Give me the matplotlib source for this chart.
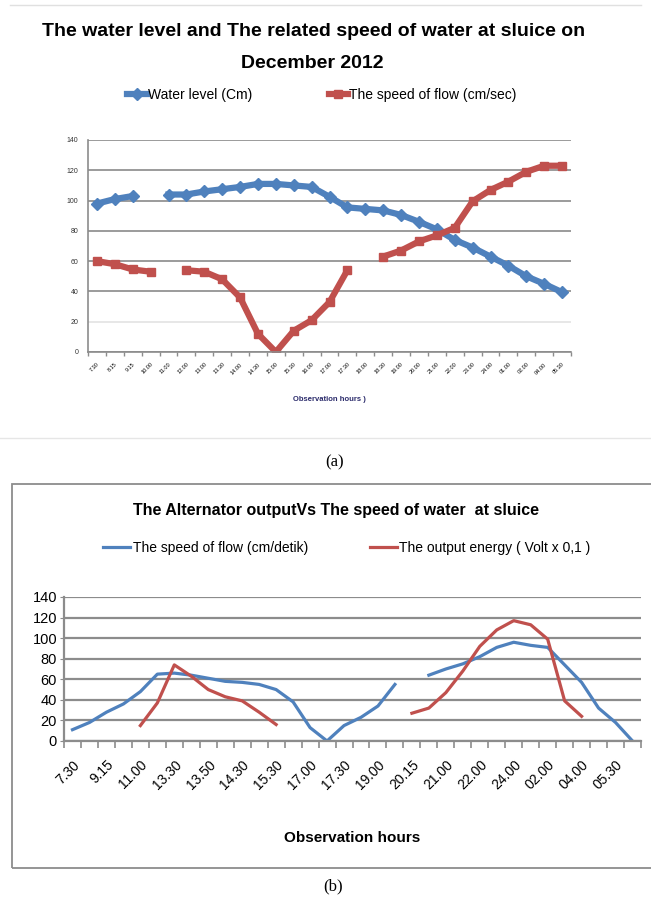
import numpy as np
import matplotlib.pyplot as plt
from matplotlib.patches import Rectangle
from matplotlib.lines import Line2D

plt.rcParams['font.family'] = ['Liberation Sans Narrow', 'Liberation Sans', 'DejaVu Sans']

nan = np.nan

# ---- chart (a) data
hours_a = ["7.30", "8.15", "9.15", "10.00", "11.00", "12.00", "13.00", "13.30", "14.00",
           "14.30", "15.00", "15.30", "16.00", "17.00", "17.30", "18.00", "18.30", "19.00",
           "20.00", "21.00", "22.00", "23.00", "24.00", "01.00", "02.00", "04.00", "05.30"]
water_level = [98, 101, 103, nan, 104, 104, 106, 107.5, 109, 111, 111, 110, 109, 102.5,
               95.5, 94.5, 93.5, 90.5, 86, 81, 74, 69, 63, 57, 50, 45, 39.5]
speed_a = [60, 58, 54.5, 53, nan, 54, 53, 48, 36, 12, 0, 14, 21, 33, 54, nan,
           63, 67, 73, 77, 82, 99.5, 107, 112.5, 119, 123, 123]

# ---- chart (b) data
labels_b = ["7.30", "9.15", "11.00", "13.30", "13.50", "14.30", "15.30", "17.00", "17.30",
            "19.00", "20.15", "21.00", "22.00", "24.00", "02.00", "04.00", "05.30"]
flow_b = [11, 18, 28, 36, 48, 65, 66, 64, 61, 58, 57, 55, 50, 38, 13, 0, 15, 23, 34, 55,
          nan, 64, 70, 75, 82, 91, 96, 93, 91, 74, 57, 32, 18, 0]
energy_b = [nan, nan, nan, nan, 15, 37, 74, 63, 50, 43, 39, 28, 16,
            nan, nan, nan, nan, nan, nan, nan,
            27, 32, 47, 68, 92, 108, 117, 113, 99, 39, 24, nan, nan, nan]

W, H = 651, 898
blue = "#4f81bd"
red = "#c0504d"


def fx(x):
    return x / W


def fy(y):
    return 1 - y / H


def box(l, t, r, b):
    return [fx(l), fy(b), (r - l) / W, (b - t) / H]


fig = plt.figure(figsize=(W / 100, H / 100), dpi=100)

# frame lines of the page
fig.add_artist(Line2D([fx(10), fx(641)], [fy(5), fy(5)], color="#e0e0e0", lw=1))
fig.add_artist(Line2D([fx(0), fx(651)], [fy(438), fy(438)], color="#e6e6e6", lw=1))
fig.add_artist(Rectangle((fx(12), fy(868)), fx(700), (868 - 484) / H, fill=False,
                         edgecolor="#8c8c8c", lw=1.3))

# ================= chart (a)
fig.text(fx(314), fy(31), "The water level and The related speed of water at sluice on",
         ha="center", va="center", fontsize=14, fontweight="bold")
fig.text(fx(312), fy(63), "December 2012", ha="center", va="center",
         fontsize=14, fontweight="bold")

ax1 = fig.add_axes(box(88, 140, 571, 352))
xa = np.arange(len(hours_a))
ax1.plot(xa, water_level, color=blue, lw=4.5, marker="D", ms=6, label="Water level (Cm)")
ax1.plot(xa, speed_a, color=red, lw=4.5, marker="s", ms=6,
         label="The speed of flow (cm/sec)")
ax1.set_xlim(-0.5, len(hours_a) - 0.5)
ax1.set_ylim(0, 140)
ax1.set_yticks(range(0, 141, 20))
ax1.tick_params(axis="y", labelsize=5, length=0, pad=7, labelcolor="#333333")
ax1.set_xticks(xa)
ax1.set_xticklabels(hours_a, rotation=45, ha="right", rotation_mode="anchor")
ax1.tick_params(axis="x", which="major", labelsize=4, length=0, pad=7)
ax1.set_xticks(np.arange(-0.5, len(hours_a), 1), minor=True)
ax1.tick_params(axis="x", which="minor", length=3, color="#8c8c8c", width=1)
ax1.grid(axis="y", color="#8a8a8a", lw=1.2)
for g, v in zip(ax1.get_ygridlines(), ax1.get_yticks()):
    if v == 20:
        g.set_color("#e3e3e3")
ax1.set_axisbelow(True)
for s in ["top", "right"]:
    ax1.spines[s].set_visible(False)
for s in ["left", "bottom"]:
    ax1.spines[s].set_color("#8c8c8c")
    ax1.spines[s].set_linewidth(1.2)
ax1.set_xlabel("Observation hours )", fontsize=5.5, fontweight="bold", color="#2b2b6b",
               labelpad=15)
ax1.legend(loc="center", bbox_to_anchor=(fx(322), fy(95)), bbox_transform=fig.transFigure,
           ncol=2, frameon=False, fontsize=10, handlelength=1.4, handletextpad=0.1,
           columnspacing=5.5)

fig.text(fx(335), fy(462), "(a)", ha="center", va="center", fontsize=12,
         family="Liberation Serif")

# ================= chart (b)
fig.text(fx(336), fy(510), "The Alternator outputVs The speed of water  at sluice",
         ha="center", va="center", fontsize=11.5, fontweight="bold")

ax2 = fig.add_axes(box(64, 597, 641, 741))
xb = np.arange(len(flow_b))
ax2.plot(xb, flow_b, color=blue, lw=2.3, label="The speed of flow (cm/detik)")
ax2.plot(xb, energy_b, color=red, lw=2.3, label="The output energy ( Volt x 0,1 )")
ax2.set_xlim(-0.5, len(flow_b) - 0.5)
ax2.set_ylim(0, 140)
ax2.set_yticks(range(0, 141, 20))
ax2.tick_params(axis="y", labelsize=10.5, length=3, color="#8c8c8c", pad=2)
ax2.set_xticks(np.arange(0, len(flow_b), 2))
ax2.set_xticklabels(labels_b, rotation=45, ha="right", rotation_mode="anchor")
ax2.tick_params(axis="x", which="major", labelsize=10, length=0, pad=12)
ax2.set_xticks(np.arange(-0.5, len(flow_b), 1), minor=True)
ax2.tick_params(axis="x", which="minor", length=5, color="#8c8c8c", width=1.2)
ax2.grid(axis="y", color="#8c8c8c", lw=1.6)
ax2.set_axisbelow(True)
for s in ["top", "right"]:
    ax2.spines[s].set_visible(False)
for s in ["left", "bottom"]:
    ax2.spines[s].set_color("#8c8c8c")
    ax2.spines[s].set_linewidth(1.6)
ax2.set_xlabel("Observation hours", fontsize=11, fontweight="bold", labelpad=28)
ax2.legend(loc="center", bbox_to_anchor=(fx(347), fy(548)), bbox_transform=fig.transFigure,
           ncol=2, frameon=False, fontsize=10, handlelength=1.9, handletextpad=0.2,
           columnspacing=4.5)

fig.text(fx(333), fy(886), "(b)", ha="center", va="center", fontsize=12,
         family="Liberation Serif")

fig.savefig("out.png", dpi=100)
